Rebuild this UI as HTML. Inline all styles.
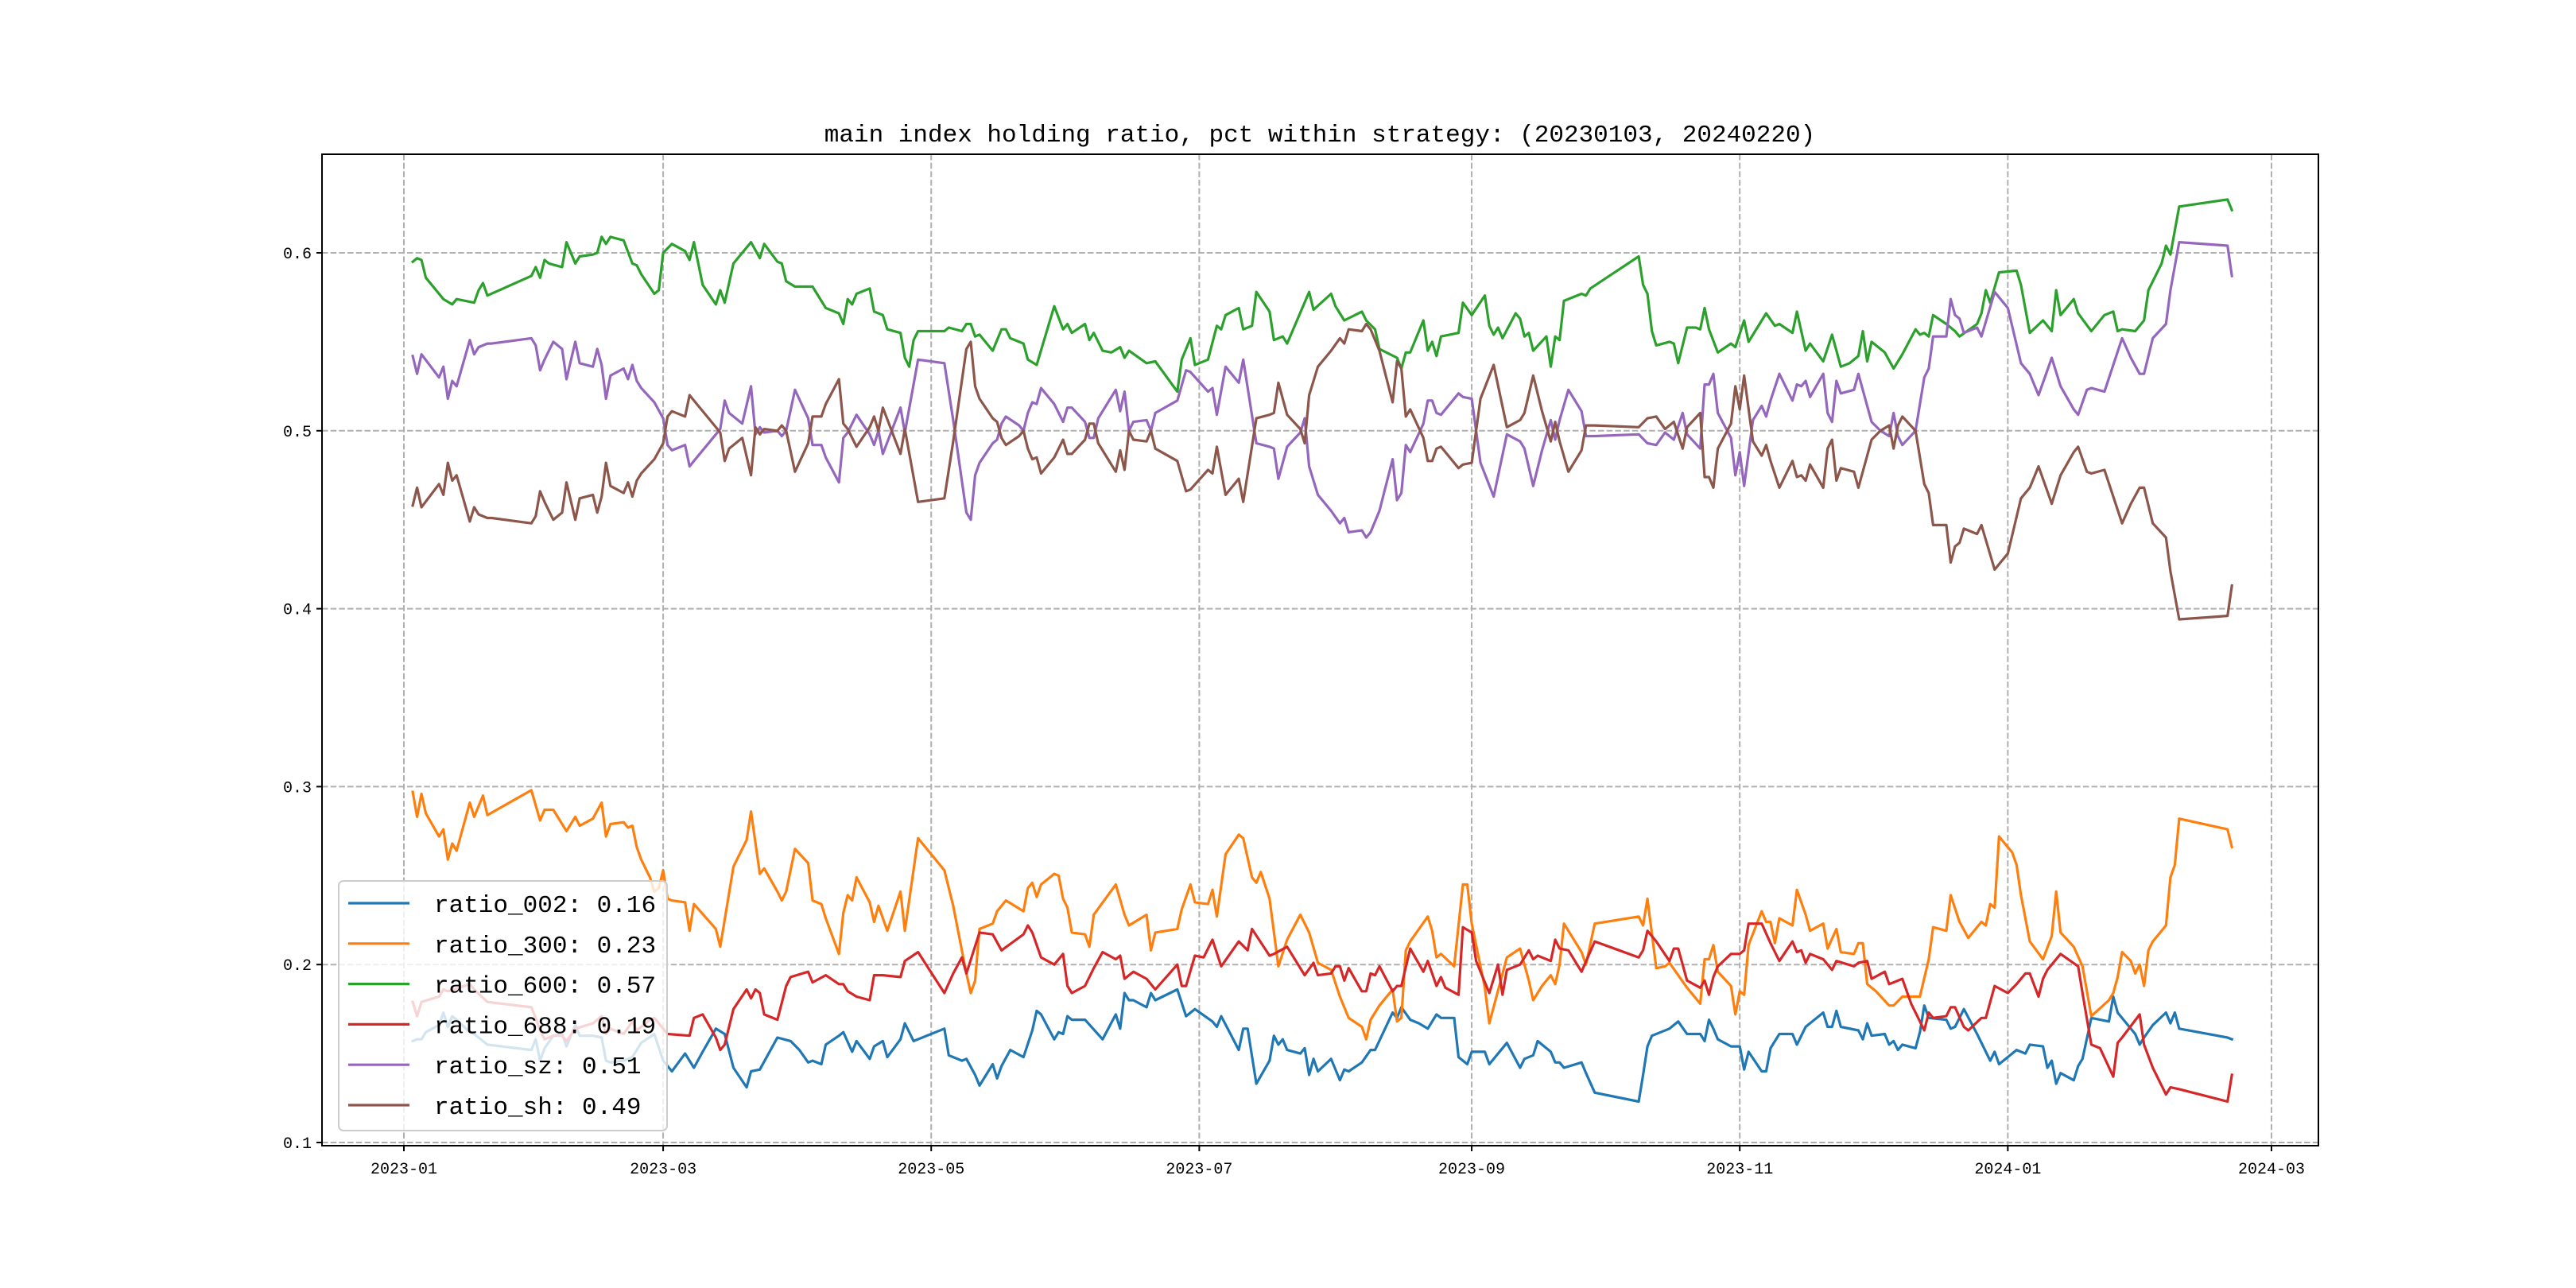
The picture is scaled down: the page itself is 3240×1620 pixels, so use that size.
<!DOCTYPE html>
<html>
<head>
<meta charset="utf-8">
<style>
html,body{margin:0;padding:0;background:#fff;}
svg{display:block;}
text{font-family:"Liberation Mono","DejaVu Sans Mono",monospace;fill:#000;}
</style>
</head>
<body>
<svg id="chart" xmlns="http://www.w3.org/2000/svg" width="3240" height="1620" viewBox="0 0 3240 1620">
<rect x="0" y="0" width="3240" height="1620" fill="#fff"/>
<text x="1660" y="178" font-size="31" text-anchor="middle">main index holding ratio, pct within strategy: (20230103, 20240220)</text>
<g id="grid"></g>
<g id="series"></g>
<rect x="405" y="194" width="2511" height="1247" fill="none" stroke="#000" stroke-width="2"/>
<g id="ticks"></g>
<g id="legend"></g>
</svg>
<script>
// day offsets are days since 2023-01-01
const days_002 = [2,3,4,5,8,9,10,11,12,15,16,19,29,30,31,32,34,36,37,39,40,43,45,46,47,50,52,53,54,57,59,61,64,66,68,71,73,75,78,79,81,85,88,90,92,93,95,96,99,100,102,103,106,107,109,110,113,114,116,123,124,127,128,130,131,134,135,136,138,141,143,144,145,148,149,150,151,152,155,159,162,163,164,165,166,169,170,171,176,178,180,184,185,186,190,191,192,194,197,198,199,200,201,204,205,206,207,208,211,213,214,215,218,220,221,225,226,227,229,231,233,235,236,239,240,242,243,246,247,251,254,255,257,258,261,262,263,264,268,269,271,281,282,283,284,288,290,292,295,296,297,298,299,302,304,305,306,309,310,311,313,316,317,319,323,324,325,326,327,331,332,333,334,337,338,339,340,341,344,345,346,347,351,352,353,355,358,361,362,363,367,369,370,373,374,375,376,377,380,381,382,384,388,389,390,394,395,396,398,401,402,403,404,415,416];
const ratio_002 = [.157,.158,.158,.162,.166,.173,.165,.171,.169,.162,.161,.155,.152,.158,.146,.153,.16,.161,.154,.166,.16,.16,.159,.146,.145,.146,.148,.152,.156,.161,.146,.14,.15,.142,.151,.164,.161,.142,.131,.14,.141,.159,.157,.152,.145,.146,.144,.155,.16,.162,.151,.157,.147,.154,.157,.148,.158,.167,.157,.164,.149,.146,.147,.138,.132,.144,.136,.143,.152,.148,.163,.174,.172,.158,.162,.161,.171,.169,.169,.158,.172,.164,.184,.18,.18,.176,.184,.18,.186,.171,.175,.168,.165,.171,.152,.164,.164,.133,.146,.16,.155,.158,.152,.15,.153,.138,.147,.14,.147,.135,.141,.14,.145,.152,.152,.173,.17,.176,.169,.167,.164,.172,.17,.17,.148,.144,.151,.151,.144,.156,.142,.147,.149,.157,.151,.145,.145,.142,.145,.139,.128,.123,.138,.154,.16,.164,.168,.161,.161,.157,.169,.164,.158,.154,.154,.141,.151,.14,.14,.153,.161,.161,.155,.165,.173,.165,.165,.174,.165,.163,.158,.167,.16,.161,.155,.157,.152,.155,.153,.162,.177,.17,.169,.164,.165,.175,.161,.146,.151,.144,.152,.15,.155,.154,.142,.146,.133,.139,.135,.143,.147,.17,.168,.182,.173,.161,.155,.159,.166,.173,.167,.173,.164,.159,.158];

const days_300 = [2,3,4,5,8,9,10,11,12,15,16,18,19,29,31,32,34,37,39,40,43,45,46,47,50,51,52,53,54,56,57,58,59,60,61,64,65,66,71,72,75,78,79,81,82,85,86,87,89,92,93,95,96,99,100,101,102,103,106,107,108,110,113,114,117,123,125,128,129,130,131,134,135,137,141,142,143,144,145,148,149,150,151,152,155,156,157,162,164,165,169,170,171,176,177,179,180,183,184,185,187,190,191,193,194,195,197,199,201,204,206,208,211,213,215,218,219,220,222,225,226,227,228,229,233,234,235,236,239,241,242,243,246,247,251,254,256,257,259,261,262,263,264,268,269,271,281,282,283,285,287,288,290,292,295,296,297,298,299,302,303,304,305,306,309,310,311,312,313,316,317,319,320,323,324,326,327,330,331,332,333,335,338,339,341,345,347,348,351,352,354,356,359,360,361,362,363,366,367,368,370,373,375,376,377,380,382,384,388,389,390,391,393,394,395,396,397,398,401,402,403,404,415,416];
const ratio_300 = [.297,.283,.296,.285,.272,.276,.259,.268,.264,.291,.283,.295,.284,.298,.281,.287,.287,.275,.283,.278,.282,.291,.272,.279,.28,.277,.278,.266,.259,.249,.241,.243,.253,.237,.236,.235,.219,.234,.22,.21,.255,.27,.286,.251,.254,.241,.236,.241,.265,.257,.236,.234,.226,.206,.229,.239,.236,.249,.235,.224,.233,.219,.241,.219,.271,.253,.233,.195,.184,.191,.22,.223,.23,.236,.23,.243,.246,.238,.245,.251,.25,.237,.232,.218,.217,.21,.228,.245,.228,.222,.228,.208,.218,.22,.231,.245,.235,.234,.242,.227,.262,.273,.271,.249,.246,.252,.237,.199,.214,.228,.218,.201,.197,.182,.17,.165,.158,.169,.177,.186,.168,.17,.208,.213,.227,.219,.204,.206,.199,.245,.245,.223,.187,.167,.204,.209,.191,.18,.188,.194,.189,.2,.223,.207,.2,.223,.227,.222,.237,.198,.199,.201,.194,.187,.178,.203,.203,.211,.196,.188,.172,.185,.183,.211,.23,.224,.224,.212,.226,.222,.242,.228,.219,.223,.209,.22,.207,.206,.212,.212,.189,.185,.177,.177,.182,.182,.203,.221,.219,.239,.224,.215,.224,.222,.234,.232,.272,.263,.256,.239,.213,.203,.216,.241,.218,.21,.199,.171,.18,.184,.193,.207,.202,.195,.2,.188,.208,.213,.222,.249,.256,.282,.276,.266];

const days_600 = [2,3,4,5,9,11,12,16,17,18,19,29,30,31,32,33,36,37,39,40,43,44,45,46,47,50,52,53,54,57,58,59,61,64,65,66,68,71,72,73,75,79,81,82,85,86,87,89,93,96,99,100,101,102,103,106,107,109,110,113,114,115,116,117,123,124,127,128,129,130,131,134,136,137,138,141,142,144,148,150,151,152,155,156,157,159,161,163,164,165,169,171,176,177,179,180,183,185,186,187,190,191,193,194,197,198,200,201,206,207,211,212,214,218,219,221,222,226,227,228,229,232,233,234,235,236,240,241,243,246,247,248,249,250,253,254,255,256,257,260,261,262,263,264,268,269,270,281,282,283,284,285,288,289,290,292,294,295,296,297,299,302,303,305,306,310,312,313,316,317,319,320,323,325,327,329,331,332,333,334,337,339,341,344,345,346,347,348,351,353,354,358,359,360,361,363,367,368,370,373,375,376,377,380,381,384,387,389,390,391,394,396,397,400,401,402,404,415,416];
const ratio_600 = [.595,.597,.596,.586,.574,.571,.574,.572,.579,.583,.576,.587,.592,.586,.596,.594,.592,.606,.594,.598,.599,.6,.609,.605,.609,.607,.594,.593,.588,.577,.579,.6,.605,.601,.596,.606,.582,.571,.579,.572,.594,.606,.597,.605,.595,.594,.584,.581,.581,.569,.566,.56,.574,.571,.577,.58,.567,.565,.557,.555,.541,.536,.551,.556,.556,.558,.556,.56,.56,.553,.554,.545,.557,.557,.552,.549,.54,.537,.57,.557,.56,.555,.56,.551,.555,.545,.544,.547,.541,.545,.538,.539,.522,.54,.552,.537,.54,.559,.557,.565,.569,.557,.559,.578,.567,.551,.553,.549,.578,.568,.577,.57,.562,.567,.562,.557,.546,.541,.535,.544,.544,.562,.545,.55,.542,.553,.555,.572,.565,.576,.559,.554,.558,.552,.566,.563,.553,.555,.545,.553,.536,.553,.551,.573,.577,.576,.58,.598,.582,.577,.556,.548,.55,.549,.538,.558,.558,.557,.569,.557,.544,.549,.547,.562,.55,.566,.559,.56,.555,.567,.545,.549,.539,.554,.536,.538,.542,.556,.539,.55,.544,.535,.543,.557,.554,.555,.553,.565,.56,.556,.553,.56,.566,.579,.572,.589,.59,.582,.555,.562,.556,.579,.565,.574,.566,.556,.565,.567,.556,.557,.556,.562,.579,.594,.604,.599,.626,.63,.624];

const days_688 = [2,3,4,8,9,10,15,16,19,29,30,31,32,34,36,37,39,43,45,46,47,50,52,53,56,57,59,60,65,66,68,71,72,73,75,78,79,80,81,82,85,87,88,92,93,96,99,100,101,103,106,107,109,113,114,117,123,125,127,128,131,134,136,141,142,143,145,148,150,151,152,155,157,159,162,163,164,166,169,171,176,177,178,180,182,184,186,190,192,193,197,198,201,205,207,208,211,212,213,214,215,218,219,220,221,222,225,226,227,229,232,233,235,236,237,240,241,243,244,247,249,250,251,254,256,257,258,261,262,263,265,268,271,281,282,283,285,288,289,290,292,295,296,297,298,299,302,304,305,306,309,311,313,316,317,318,319,320,323,325,326,330,331,333,334,337,338,339,341,343,346,347,348,351,352,353,355,356,359,360,362,365,367,369,370,372,373,374,377,381,382,384,386,389,390,391,395,396,398,401,402,404,415,416];
const ratio_688 = [.179,.171,.179,.182,.186,.185,.189,.186,.179,.176,.17,.163,.158,.16,.16,.157,.164,.167,.171,.161,.164,.161,.168,.163,.169,.17,.164,.161,.16,.17,.172,.159,.152,.155,.175,.186,.181,.186,.184,.172,.169,.188,.193,.196,.19,.194,.189,.189,.185,.182,.18,.194,.194,.193,.202,.207,.184,.195,.204,.195,.218,.217,.208,.217,.222,.218,.204,.2,.206,.188,.184,.188,.198,.207,.203,.205,.192,.196,.192,.186,.2,.188,.188,.205,.204,.214,.199,.213,.208,.22,.205,.206,.21,.194,.201,.194,.195,.199,.199,.191,.198,.185,.185,.195,.194,.199,.185,.188,.188,.209,.196,.202,.188,.193,.187,.183,.221,.218,.202,.184,.2,.183,.197,.2,.208,.203,.205,.202,.214,.209,.208,.196,.213,.204,.208,.219,.213,.202,.209,.209,.191,.187,.191,.183,.193,.199,.206,.206,.208,.223,.223,.212,.202,.213,.207,.208,.201,.206,.203,.197,.202,.199,.201,.202,.192,.196,.189,.19,.192,.178,.163,.173,.17,.171,.176,.176,.165,.163,.17,.17,.188,.184,.189,.195,.195,.182,.192,.197,.206,.199,.184,.155,.153,.137,.156,.159,.172,.155,.142,.127,.131,.13,.123,.138];

const days_szsh = [2,3,4,8,9,10,11,12,15,16,17,19,20,29,30,31,32,34,36,37,39,40,43,44,45,46,47,50,51,52,53,54,57,59,60,61,64,65,66,69,72,73,74,77,79,80,81,82,85,86,87,89,92,93,95,96,99,100,101,103,106,107,108,109,113,114,117,123,125,128,129,130,131,134,135,136,137,140,141,142,143,144,145,148,150,151,152,155,156,157,158,162,163,164,165,166,169,170,171,176,178,179,183,184,185,187,190,191,194,197,198,199,201,204,205,206,208,211,213,214,215,218,219,220,222,225,226,227,228,229,232,233,234,235,236,240,241,243,245,248,251,254,255,257,259,261,262,263,265,268,269,271,281,283,285,287,289,291,292,295,296,297,298,299,302,303,304,305,307,309,310,311,313,316,317,318,319,320,323,324,325,326,327,330,331,334,336,338,339,340,341,344,346,347,348,351,352,353,354,355,358,359,362,365,368,370,372,374,375,377,380,381,383,384,387,389,391,393,395,396,398,401,402,404,415,416];
const ratio_sz = [.542,.532,.543,.53,.536,.518,.528,.525,.551,.543,.547,.549,.549,.552,.548,.534,.54,.55,.546,.529,.55,.538,.536,.546,.537,.518,.531,.535,.529,.537,.528,.524,.516,.507,.492,.489,.492,.48,.483,.492,.501,.517,.51,.504,.525,.498,.502,.499,.5,.497,.5,.523,.507,.492,.492,.485,.471,.496,.499,.509,.498,.492,.5,.487,.513,.499,.54,.538,.506,.454,.45,.475,.482,.493,.495,.504,.508,.503,.5,.51,.516,.515,.524,.515,.505,.513,.513,.505,.496,.496,.507,.523,.511,.522,.5,.505,.506,.5,.51,.517,.534,.533,.522,.524,.509,.536,.527,.54,.493,.491,.49,.473,.491,.499,.507,.48,.464,.455,.448,.451,.443,.444,.44,.443,.455,.484,.461,.465,.492,.488,.504,.517,.517,.51,.509,.521,.519,.518,.482,.463,.498,.494,.49,.469,.489,.506,.495,.506,.523,.511,.497,.497,.498,.493,.492,.499,.495,.51,.498,.49,.526,.526,.532,.51,.496,.475,.488,.469,.506,.514,.508,.517,.532,.517,.526,.525,.528,.519,.532,.51,.505,.528,.521,.523,.532,.505,.5,.497,.51,.497,.492,.5,.53,.535,.553,.553,.574,.565,.563,.555,.558,.553,.578,.569,.538,.532,.52,.534,.541,.525,.512,.509,.523,.524,.522,.537,.552,.541,.532,.532,.552,.56,.579,.606,.604,.587];
const ratio_sh = [.458,.468,.457,.47,.464,.482,.472,.475,.449,.457,.453,.451,.451,.448,.452,.466,.46,.45,.454,.471,.45,.462,.464,.454,.463,.482,.469,.465,.471,.463,.472,.476,.484,.493,.508,.511,.508,.52,.517,.508,.499,.483,.49,.496,.475,.502,.498,.501,.5,.503,.5,.477,.493,.508,.508,.515,.529,.504,.501,.491,.502,.508,.5,.513,.487,.501,.46,.462,.494,.546,.55,.525,.518,.507,.505,.496,.492,.497,.5,.49,.484,.485,.476,.485,.495,.487,.487,.495,.504,.504,.493,.477,.489,.478,.5,.495,.494,.5,.49,.483,.466,.467,.478,.476,.491,.464,.473,.46,.507,.509,.51,.527,.509,.501,.493,.52,.536,.545,.552,.549,.557,.556,.56,.557,.545,.516,.539,.535,.508,.512,.496,.483,.483,.49,.491,.479,.481,.482,.518,.537,.502,.506,.51,.531,.511,.494,.505,.494,.477,.489,.503,.503,.502,.507,.508,.501,.505,.49,.502,.51,.474,.474,.468,.49,.504,.525,.512,.531,.494,.486,.492,.483,.468,.483,.474,.475,.472,.481,.468,.49,.495,.472,.479,.477,.468,.495,.5,.503,.49,.503,.508,.5,.47,.465,.447,.447,.426,.435,.437,.445,.442,.447,.422,.431,.462,.468,.48,.466,.459,.475,.488,.491,.477,.476,.478,.463,.448,.459,.468,.468,.448,.44,.421,.394,.396,.413];

const seriesNames = ["ratio_002","ratio_300","ratio_600","ratio_688","ratio_sz","ratio_sh"];
const legendValues = ["0.16","0.23","0.57","0.19","0.51","0.49"];
const xTickDays = [0,59,120,181,243,304,365,425];
const xTickLabels = ["2023-01","2023-03","2023-05","2023-07","2023-09","2023-11","2024-01","2024-03"];
const yTickValues = [0.1,0.2,0.3,0.4,0.5,0.6];
const yTickLabels = ["0.1","0.2","0.3","0.4","0.5","0.6"];

const NS = "http://www.w3.org/2000/svg";
const X0 = 508, PXDAY = 5.527;
const Y6 = 318, PXUNIT = 2238;
function xScale(d){ return X0 + d * PXDAY; }
function yScale(v){ return Y6 + (0.6 - v) * PXUNIT; }
function mk(tag, attrs, parent){
  const el = document.createElementNS(NS, tag);
  for (const k in attrs) el.setAttribute(k, attrs[k]);
  parent.appendChild(el);
  return el;
}
const gGrid = document.getElementById("grid");
const gSeries = document.getElementById("series");
const gTicks = document.getElementById("ticks");
const gLegend = document.getElementById("legend");

xTickDays.forEach((d,i)=>{
  const x = xScale(d);
  const gl = mk("line",{x1:x,x2:x,y1:194,y2:1441,stroke:"#b0b0b0","stroke-width":2,"stroke-dasharray":"7.5,3.2"},gGrid);
  
  
  const t = mk("line",{x1:x,x2:x,y1:1441,y2:1448,stroke:"#000","stroke-width":2},gTicks);
  
  
  const lb = mk("text",{x:x,y:1476,"font-size":20,"text-anchor":"middle"},gTicks);
  lb.textContent = xTickLabels[i];
  
  
});
yTickValues.forEach((v,i)=>{
  const y = yScale(v);
  const gl = mk("line",{x1:405,x2:2916,y1:y,y2:y,stroke:"#b0b0b0","stroke-width":2,"stroke-dasharray":"7.5,3.2"},gGrid);
  
  
  const t = mk("line",{x1:398,x2:405,y1:y,y2:y,stroke:"#000","stroke-width":2},gTicks);
  
  
  const lb = mk("text",{x:392,y:y+7,"font-size":20,"text-anchor":"end"},gTicks);
  lb.textContent = yTickLabels[i];
  
  
});

const colors = ["#1f77b4","#ff7f0e","#2ca02c","#d62728","#9467bd","#8c564b"];
const allDays = [days_002, days_300, days_600, days_688, days_szsh, days_szsh];
const allVals = [ratio_002, ratio_300, ratio_600, ratio_688, ratio_sz, ratio_sh];
allVals.forEach((vals,si)=>{
  const ds = allDays[si];
  const n = Math.min(ds.length, vals.length);
  let pts = [];
  for (let i=0;i<n;i++) pts.push(xScale(ds[i]).toFixed(1)+","+yScale(vals[i]).toFixed(1));
  const pl = mk("polyline",{points:pts.join(" "),fill:"none",stroke:colors[si],"stroke-width":3.2,"stroke-linejoin":"round","stroke-linecap":"square"},gSeries);
  
  
});

const lbox = mk("rect",{x:426,y:1108,width:413,height:314,rx:6,fill:"#fff","fill-opacity":0.8,stroke:"#cccccc","stroke-width":2},gLegend);


seriesNames.forEach((nm,i)=>{
  const y = 1136 + i*50.8;
  const ln = mk("line",{x1:438,x2:515,y1:y,y2:y,stroke:colors[i],"stroke-width":3.2},gLegend);
  
  
  const tx = mk("text",{x:546,y:y+11,"font-size":31},gLegend);
  tx.textContent = nm + ": " + legendValues[i];
  
  
});
</script>
</body>
</html>
